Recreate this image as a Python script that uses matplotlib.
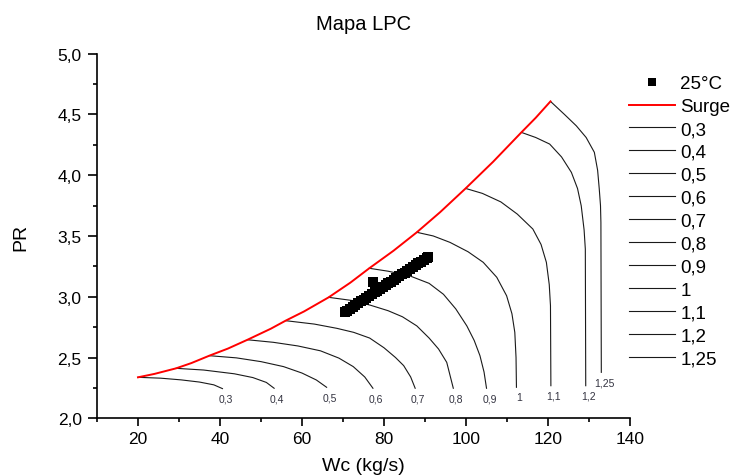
import matplotlib
matplotlib.use("Agg")
import matplotlib.pyplot as plt
from matplotlib.ticker import MultipleLocator, FuncFormatter

plt.rcParams['font.family'] = ['Liberation Sans', 'DejaVu Sans']

# Surge line (Wc, PR)
surge_wc = [20.0, 24.0, 29.3, 33.0, 37.4, 41.9, 46.7, 52.4, 56.0, 60.5, 66.5,
            71.8, 76.4, 82.3, 88.0, 93.7, 99.9, 106.6, 113.5, 117.0, 120.6]
surge_pr = [2.337, 2.365, 2.411, 2.454, 2.515, 2.573, 2.646, 2.737, 2.803, 2.879, 2.995,
            3.116, 3.234, 3.378, 3.530, 3.696, 3.891, 4.110, 4.352, 4.472, 4.607]

# Corrected speed lines
speed_labels = ["0,3", "0,4", "0,5", "0,6", "0,7", "0,8", "0,9", "1", "1,1", "1,2", "1,25"]
speed_wc = [
    [20.0, 25.5, 30.5, 35.0, 38.5, 40.6],
    [29.3, 36.0, 43.5, 48.0, 51.3, 53.2],
    [37.4, 44.0, 50.0, 55.5, 60.0, 63.5, 66.0],
    [46.7, 53.0, 59.0, 64.5, 69.0, 72.5, 75.3, 77.3],
    [56.0, 63.0, 68.5, 72.6, 76.5, 80.0, 82.8, 84.8, 86.5, 87.6],
    [66.5, 72.0, 76.7, 81.0, 84.5, 88.0, 91.0, 93.3, 95.3, 96.9],
    [76.4, 81.0, 86.4, 91.0, 94.5, 97.5, 100.2, 102.0, 103.4, 104.4, 105.0],
    [88.0, 92.0, 96.1, 100.5, 104.2, 107.5, 109.9, 111.2, 111.9, 112.2, 112.3],
    [99.9, 104.0, 108.5, 112.5, 116.3, 118.3, 119.6, 120.3, 120.6, 120.7],
    [113.5, 117.0, 120.4, 123.3, 125.7, 127.2, 128.1, 128.8, 129.1, 129.2],
    [120.6, 124.0, 126.9, 129.3, 131.3, 132.1, 132.5, 132.8, 132.9, 133.0],
]
speed_pr = [
    [2.337, 2.330, 2.316, 2.298, 2.275, 2.244],
    [2.411, 2.397, 2.366, 2.335, 2.295, 2.247],
    [2.515, 2.497, 2.466, 2.425, 2.372, 2.315, 2.255],
    [2.646, 2.625, 2.595, 2.555, 2.495, 2.425, 2.340, 2.247],
    [2.803, 2.775, 2.740, 2.707, 2.660, 2.580, 2.500, 2.433, 2.340, 2.247],
    [2.995, 2.970, 2.930, 2.885, 2.835, 2.760, 2.660, 2.570, 2.460, 2.247],
    [3.234, 3.210, 3.170, 3.110, 3.020, 2.900, 2.760, 2.640, 2.515, 2.380, 2.247],
    [3.530, 3.500, 3.447, 3.370, 3.283, 3.160, 3.008, 2.860, 2.707, 2.500, 2.255],
    [3.891, 3.850, 3.780, 3.680, 3.557, 3.430, 3.283, 3.100, 2.926, 2.268],
    [4.352, 4.310, 4.256, 4.150, 4.023, 3.890, 3.748, 3.550, 3.392, 2.268],
    [4.607, 4.500, 4.406, 4.310, 4.188, 4.040, 3.886, 3.750, 3.612, 2.378],
]

# Measured operating points at 25°C
op_wc = [70.4, 71.0, 71.7, 72.4, 73.0, 73.7, 74.4, 75.0, 75.7, 76.4, 77.0, 77.4,
         77.7, 78.4, 79.0, 79.7, 80.4, 81.0, 81.7, 82.4, 83.0, 83.7, 84.4, 85.0,
         85.7, 86.4, 87.0, 87.7, 88.4, 89.0, 89.7, 90.4, 90.8]
op_pr = [2.872, 2.886, 2.901, 2.917, 2.930, 2.946, 2.962, 2.975, 2.991, 3.006, 3.020, 3.120,
         3.036, 3.051, 3.065, 3.081, 3.096, 3.110, 3.125, 3.141, 3.154, 3.170, 3.186, 3.199,
         3.215, 3.230, 3.244, 3.260, 3.275, 3.289, 3.305, 3.320, 3.329]

fig = plt.figure(figsize=(7.36, 4.77), dpi=100)
ax = fig.add_axes([0.1318, 0.121, 0.7242, 0.7645])

speed_handles = []
for lab, xs, ys in zip(speed_labels, speed_wc, speed_pr):
    h, = ax.plot(xs, ys, color='#1a1a1a', lw=0.8, zorder=2, label=lab)
    speed_handles.append(h)
    ax.annotate(lab, (xs[-1], ys[-1]), xytext=(3, -10), textcoords='offset pixels',
                ha='center', va='center', fontsize=7.5, color='#333340')

surge_h, = ax.plot(surge_wc, surge_pr, color='#ff0000', lw=1.4, zorder=3, label='Surge')
op_h, = ax.plot(op_wc, op_pr, ls='none', marker='s', ms=6.8, color='black',
                markeredgewidth=0, zorder=4, label='25°C')

ax.set_xlim(10, 140)
ax.set_ylim(2.0, 5.0)
ax.xaxis.set_major_locator(MultipleLocator(20))
ax.xaxis.set_minor_locator(MultipleLocator(10))
ax.yaxis.set_major_locator(MultipleLocator(0.5))
ax.yaxis.set_minor_locator(MultipleLocator(0.25))
ax.yaxis.set_major_formatter(FuncFormatter(lambda v, p: f"{v:.1f}".replace('.', ',')))
ax.xaxis.set_major_formatter(FuncFormatter(lambda v, p: f"{v:.0f}"))

for s in ['top', 'right']:
    ax.spines[s].set_visible(False)
for s in ['left', 'bottom']:
    ax.spines[s].set_linewidth(1.2)
ax.tick_params(which='major', direction='out', length=6, width=1.2, labelsize=12.5)
ax.tick_params(which='minor', direction='out', length=3.2, width=1.2)
ax.tick_params(axis='x', which='major', pad=3)
ax.tick_params(axis='y', which='major', length=6.5, pad=4.5)

ax.set_title('Mapa LPC', fontsize=14.5, pad=18)
ax.set_xlabel('Wc (kg/s)', fontsize=14, labelpad=8)
ax.set_ylabel('PR', fontsize=14, labelpad=20)

handles = [op_h, surge_h] + speed_handles
fig.legend(handles=handles, loc='upper left', bbox_to_anchor=(629 / 736, 1 - 76 / 477),
           frameon=False, fontsize=13.5, handlelength=2.44, handletextpad=0.3,
           labelspacing=0.31, borderpad=0, borderaxespad=0, markerscale=0.75)

fig.savefig('out.png', dpi=100)
